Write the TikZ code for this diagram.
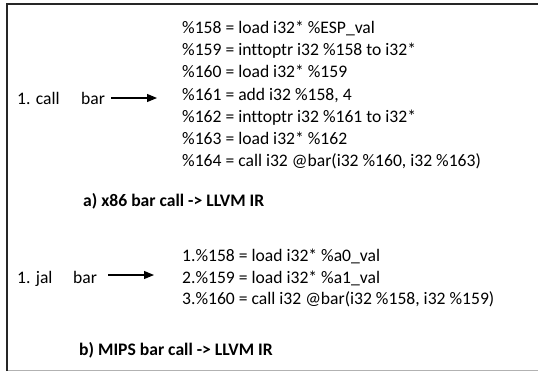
\documentclass[tikz,border=0pt]{standalone}
\usepackage{fontspec}
\setmainfont{Carlito}[Ligatures=CommonOff]
\usetikzlibrary{arrows.meta}
\begin{document}
\begin{tikzpicture}[x=1pt,y=-1pt,
  txt/.style={anchor=base west, inner sep=0pt, font=\fontsize{17.6}{21}\selectfont},
  captxt/.style={anchor=base west, inner sep=0pt, font=\fontsize{17.6}{21}\selectfont\bfseries},
  conv/.style={-{Triangle[length=10pt,width=8pt]}, line width=1.1pt}]
\useasboundingbox (0,0) rectangle (538,372);
% frame
\draw[line width=2.2pt, black!85] (7,371) -- (7,4) -- (538,4);
\draw[line width=1.5pt, black!30] (8,370.5) -- (538,370.5);
% part a
\node[txt] (acall) at (17,104) {1. call};
\node[txt] (abar) at (81,104) {bar};
\coordinate (as) at (111,98);
\coordinate (ae) at (157,98);
\draw[conv] (as) -- (ae);
\node[txt] (a1) at (182,33.5) {\%158 = load i32* \%ESP\_val};
\node[txt] (a2) at (182,55.7) {\%159 = inttoptr i32 \%158 to i32*};
\node[txt] (a3) at (182,77.9) {\%160 = load i32* \%159};
\node[txt] (a4) at (182,100.1) {\%161 = add i32 \%158, 4};
\node[txt] (a5) at (182,122.3) {\%162 = inttoptr i32 \%161 to i32*};
\node[txt] (a6) at (182,144.5) {\%163 = load i32* \%162};
\node[txt] (a7) at (182,166.7) {\%164 = call i32 @bar(i32 \%160, i32 \%163)};
\node[captxt] (capa) at (83,206) {a) x86 bar call -> LLVM IR};
% part b
\node[txt] (bjal) at (17,283) {1. jal};
\node[txt] (bbar) at (73,283) {bar};
\coordinate (bs) at (108,275);
\coordinate (be) at (154,275);
\draw[conv] (bs) -- (be);
\node[txt] (b1) at (182,261) {1.\%158 = load i32* \%a0\_val};
\node[txt] (b2) at (182,283) {2.\%159 = load i32* \%a1\_val};
\node[txt] (b3) at (182,304.5) {3.\%160 = call i32 @bar(i32 \%158, i32 \%159)};
\node[captxt] (capb) at (79,355) {b) MIPS bar call -> LLVM IR};
\end{tikzpicture}
\end{document}
